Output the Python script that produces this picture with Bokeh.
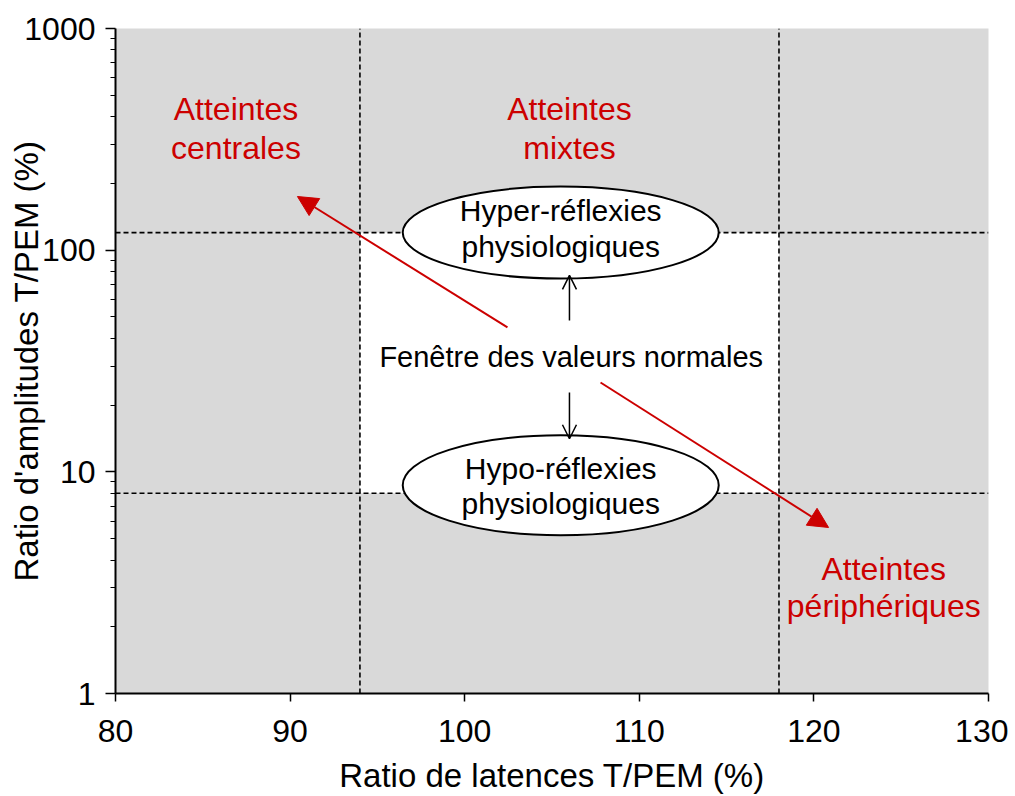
from bokeh.plotting import figure
from bokeh.models import ColumnDataSource, Arrow, NormalHead, OpenHead, FixedTicker, NumeralTickFormatter
from bokeh.core.properties import value
from bokeh.embed import file_html
from bokeh.resources import INLINE

# ---- data ----
x_start, x_end = 80, 130
y_start, y_end = 1, 1000
x_ticks = [80, 90, 100, 110, 120, 130]
y_ticks = [1, 10, 100, 1000]
y_minor = [m * d for d in (1, 10, 100) for m in range(2, 10)]

lat_limits = [94, 118]      # normal latency ratio window (%)
amp_limits = [8, 120]       # normal amplitude ratio window (%)

ell_x = [105.5, 105.5]
ell_y = [120, 8.7]
ell_w = [316, 316]
ell_h = [92, 100]

ell_text = ["Hyper-réflexies", "physiologiques", "Hypo-réflexies", "physiologiques"]
ell_text_x = [105.5, 105.5, 105.5, 105.5]
ell_text_y = [151, 104, 10.35, 7.19]

red_text = ["Atteintes", "centrales", "Atteintes", "mixtes", "Atteintes", "périphériques"]
red_text_x = [86.9, 86.9, 106.0, 106.0, 124.0, 124.0]
red_text_y = [435, 290, 435, 290, 3.66, 2.49]

center_text = ["Fenêtre des valeurs normales"]
center_text_x = [106.1]
center_text_y = [33.1]

red_arrow_x0 = [102.45, 107.78]
red_arrow_y0 = [44.8, 25.3]
red_arrow_x1 = [90.42, 120.84]
red_arrow_y1 = [174.6, 5.61]

blk_arrow_x0 = [106.0, 106.0]
blk_arrow_y0 = [48.2, 22.8]
blk_arrow_x1 = [106.0, 106.0]
blk_arrow_y1 = [76.9, 14.1]

FONT = "Liberation Sans"
RED = "#cc0000"

p = figure(width=1008, height=796, x_range=(x_start, x_end), y_range=(y_start, y_end),
           y_axis_type="log", output_backend="svg", toolbar_location=None,
           min_border_left=115, min_border_right=20, min_border_top=28, min_border_bottom=103)
p.background_fill_color = "#d9d9d9"
p.border_fill_color = "white"
p.outline_line_color = None
p.grid.visible = False

# normal window
p.quad(left=[lat_limits[0]], right=[lat_limits[1]], bottom=[amp_limits[0]], top=[amp_limits[1]],
       fill_color="white", line_color=None)

# dashed limits
p.segment(x0=[x_start, x_start], x1=[x_end, x_end], y0=amp_limits, y1=amp_limits,
          line_color="black", line_dash="5 3", line_width=1.6)
p.segment(x0=lat_limits, x1=lat_limits, y0=[y_start, y_start], y1=[y_end, y_end],
          line_color="black", line_dash="5 3", line_width=1.6)

# ellipses
p.ellipse(x=ell_x, y=ell_y, width=ell_w, height=ell_h, width_units="screen", height_units="screen",
          fill_color="white", line_color="black", line_width=2)

p.text(x=ell_text_x, y=ell_text_y, text=ell_text, text_font=value(FONT), text_font_size="30px",
       text_align="center", text_baseline="middle", text_color="black")
p.text(x=red_text_x, y=red_text_y, text=red_text, text_font=value(FONT), text_font_size="32px",
       text_align="center", text_baseline="middle", text_color=RED)
p.text(x=center_text_x, y=center_text_y, text=center_text, text_font=value(FONT), text_font_size="29px",
       text_align="center", text_baseline="middle", text_color="black")

red_src = ColumnDataSource(dict(x0=red_arrow_x0, y0=red_arrow_y0, x1=red_arrow_x1, y1=red_arrow_y1))
p.add_layout(Arrow(end=NormalHead(size=20, fill_color=RED, line_color=RED),
                   x_start="x0", y_start="y0", x_end="x1", y_end="y1", source=red_src,
                   line_color=RED, line_width=2))
blk_src = ColumnDataSource(dict(x0=blk_arrow_x0, y0=blk_arrow_y0, x1=blk_arrow_x1, y1=blk_arrow_y1))
p.add_layout(Arrow(end=OpenHead(size=14, line_color="black", line_width=1.5),
                   x_start="x0", y_start="y0", x_end="x1", y_end="y1", source=blk_src,
                   line_color="black", line_width=1.5))

# axes
p.xaxis.ticker = FixedTicker(ticks=x_ticks)
p.yaxis.ticker = FixedTicker(ticks=y_ticks, minor_ticks=y_minor)
p.yaxis.formatter = NumeralTickFormatter(format="0")
for ax in (p.xaxis, p.yaxis):
    ax.axis_line_width = 2
    ax.axis_line_color = "black"
    ax.major_tick_line_color = "black"
    ax.major_tick_line_width = 1.5
    ax.major_tick_in = 0
    ax.major_label_text_font = FONT
    ax.major_label_text_font_size = "32px"
    ax.major_label_text_color = "black"
    ax.axis_label_text_font = FONT
    ax.axis_label_text_font_size = "33px"
    ax.axis_label_text_font_style = "normal"
    ax.axis_label_text_color = "black"
p.xaxis.major_tick_out = 8
p.xaxis.minor_tick_line_color = None
p.xaxis.major_label_standoff = 18
p.xaxis.axis_label_standoff = 12
p.yaxis.major_tick_out = 10
p.yaxis.minor_tick_out = 5
p.yaxis.minor_tick_in = 0
p.yaxis.minor_tick_line_color = "black"
p.yaxis.major_label_standoff = 10
p.yaxis.axis_label_standoff = -24
p.xaxis.axis_label = "Ratio de latences T/PEM (%)"
p.yaxis.axis_label = "Ratio d'amplitudes T/PEM (%)"

open("out.html", "w").write(file_html(p, INLINE))
